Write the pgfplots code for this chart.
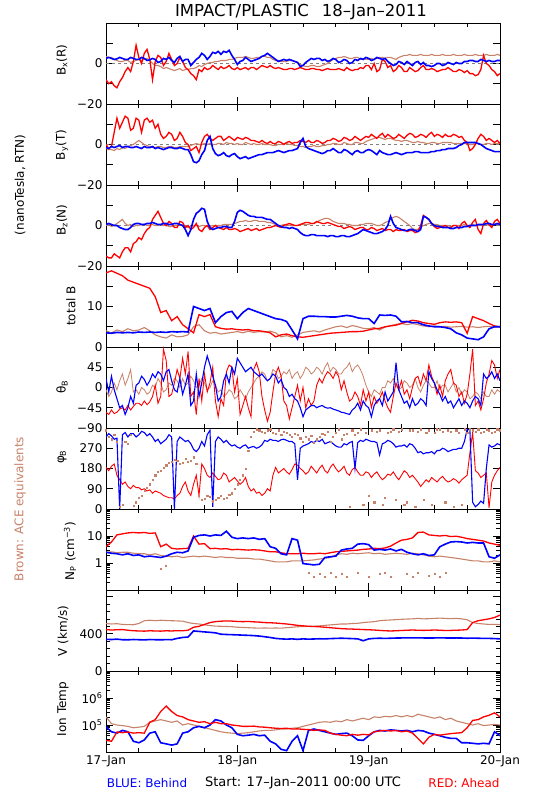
\documentclass[border=0pt]{standalone}
\usepackage{fontspec}
\setmainfont{DejaVu Sans}
\usepackage{pgfplots}
\usepackage{pgfplotstable}
\pgfplotsset{compat=1.18}
\definecolor{ace}{RGB}{200,130,105}
\definecolor{sblue}{RGB}{0,0,255}
\definecolor{sred}{RGB}{255,0,0}

\pgfplotstableread{
t b r a
0 2.5 -8 3.5
0.5 3 -10 3
1 2.5 -9 3
1.5 2 -11 2
2 2.3 -12 1.5
2.5 3 -9 1
3 2.5 -7 1
3.5 2 -4 1.5
4 2 -2 1.5
4.5 3 -4 0.5
5 2.5 1 1
5.5 2 9 1.5
6 2 3 2
6.5 3 0 1.5
7 2.5 5 2
7.5 1.5 7 2.5
8 1.8 2 1.5
8.5 2.5 -8 0
9 2 1 -1
9.5 0.5 4 -1
10 1 3 -1.5
10.5 2.5 -1 -2.5
11 2 1 -2
11.5 3 5 -2.5
12 1.5 2 -3
12.5 0.5 -1 -3.5
13 2.5 0 -3
13.5 3.5 3 -2.5
14 1 1 -3.5
14.5 2 -2 -3
15 2 -3 -3
15.5 -1 -5 -2.5
16 0.5 -6 -2.5
16.5 2 -8 -2
17 3 -3 -1
17.5 5 -4 -1.5
18 4 -2 -0.5
18.5 2 -3 0
19 3.5 -2.5 0.5
19.5 5.5 -1 0.5
20 5 -2 1
20.5 6 -3 1
21 4.5 -1.5 1.5
21.5 6 -2.5 1.5
22 5.5 -2 1.5
22.5 6.5 -1 2
23 4 -2.5 2
23.5 2 -3 2.5
24 -0.5 -2 3
24.5 1 -3 3
25 1.5 -2.5 3
25.5 3 -2 3.5
26 2 -3 3
26.5 1 -2 2.5
27 1.5 -2 2.5
27.5 2 -3 3
28 2.5 -2 3
28.5 3.5 -1 3.5
29 4 -1.5 3.5
29.5 5 -2 3
30 4 -1 3
30.5 3 -2 2
31 2 -2.5 1.5
31.5 1 -2 1.5
32 1.5 -2.5 1
32.5 2 -3 1
33 1.5 -3 1
33.5 2 -2.5 1.5
34 1.5 -2.5 1.5
34.5 1 -3 1
35 0.5 -2.5 0.5
35.5 -1.5 -2 -0.5
36 -1 -2.5 -1
36.5 0.5 -3 -1.5
37 1.5 -3 -1.5
37.5 2.5 -2.5 -1
38 2 -2.5 -1
38.5 2.5 -3 -1.5
39 2.5 -3 -1.5
39.5 1.5 -3.5 -1
40 2 -3 -0.5
40.5 1 -2.5 0
41 1.5 -3 1
41.5 2.5 -3 2
42 2 -3 2.5
42.5 0.5 -2.5 3
43 1 -3 3
43.5 2 -3.5 3.5
44 1.5 -2 3
44.5 0 -3 2.5
45 0.5 -3.5 2.5
45.5 2 -3 3
46 1.5 -3 3
46.5 2.5 -2 2
47 2 -2.5 2.5
47.5 3 -1 2
48 2.5 -1 2
48.5 1.5 -3 2.5
49 2 0 2
49.5 3 -4 2.5
50 2.5 -3 3
50.5 2 2 3
51 2.5 1 2.5
51.5 1 -2 3
52 0 -1 3
52.5 -1 -4 2.5
53 -0.5 -3 2
53.5 1 -1 3
54 0.5 -2 3.5
54.5 -0.5 -4 4
55 1 -4 4
55.5 0 -2 4.5
56 -1 -3 4
56.5 0.5 -4 4
57 1 -3.5 4
57.5 -0.5 -2 4.5
58 0.5 -1 4
58.5 -1 -3 4
59 -1 -3 4
59.5 -1.5 -2.5 4.5
60 -1 -3 4
60.5 0 -4 4
61 0 -3.5 4
61.5 -1 -3 4.5
62 -0.5 -3 4
62.5 0.5 -2 4
63 0 -3 4
63.5 -0.5 -4 4.5
64 0.5 -4 4
64.5 0 -3 4
65 0 -3.5 4
65.5 1 -4.5 4.5
66 1 -3.5 4
66.5 1.5 -5 4
67 1.5 -5 4
67.5 1 -6 4.5
68 1 -5.5 4
68.5 2 -3 4
69 1.5 4 4
69.5 1 0 4.5
70 1.5 -1 4
70.5 1 -3 4
71 1 -4 4
71.5 1.5 -6 4.5
72 1.5 -5 4
}\tBx

\pgfplotstableread{
t b r a
0 -1.5 0 -2
0.5 -2 -2 -2.5
1 -1 -1 -2.5
1.5 -1.5 6 -3
2 -1 13 -2
2.5 -0.5 8 -2.5
3 -1.5 11 -1.5
3.5 -1 14 -2
4 -1 13 -1
4.5 -1.5 7 -0.5
5 -1.5 8 0
5.5 -1 13 1
6 -1.5 12 2
6.5 -2 6 1
7 -1 12 0
7.5 -1.5 13 -0.5
8 -1.5 11 -1
8.5 -1 12 -1.5
9 -2 8 -1.5
9.5 -1.5 10 -1
10 -2 5 -1
10.5 -2.5 3 -1.5
11 -2 4 -1.5
11.5 -1.5 6 -1
12 -1.5 5 -1
12.5 -2 2 -1.5
13 -2 3 -1.5
13.5 -1.5 6 -1
14 -2 4 -1
14.5 -2.5 1 -1
15 -2.5 0 -1
15.5 -5 -3 -0.5
16 -8.5 -2 0
16.5 -9 -1 0.5
17 -8 -4 0
17.5 -5 1 0
18 -3 4 0.5
18.5 2 5 0
19 4 3 0.5
19.5 -2 2 0
20 -4.5 3 0
20.5 -5.5 4 0.5
21 -5 4 0.5
21.5 -4 2 0
22 -5.5 3 1
22.5 -6 4 0.5
23 -5 3 0.5
23.5 -4.5 2 0
24 -6 3.5 0.5
24.5 -7 3 0
25 -6.5 2.5 0
25.5 -6 3.5 1
26 -7 3 0.5
26.5 -6.5 2 0
27 -6 2 0.5
27.5 -5.5 1.5 0
28 -5 1 0
28.5 -5 2 0.5
29 -4.5 1 0
29.5 -4 0.5 0
30 -4 1.5 0
30.5 -4 0.5 -0.5
31 -3.5 0.5 -0.5
31.5 -3 1.5 0
32 -3.5 1 0
32.5 -4 0 0.5
33 -3.5 1 0.5
33.5 -3 1.5 0
34 -3 0.5 0
34.5 -2.5 1 -0.5
35 -2 1 -0.5
35.5 1 2 -1
36 3 1.5 -1
36.5 -1 1 -1.5
37 -2 2 -1
37.5 -2.5 1 -1
38 -3 1 -0.5
38.5 -3.5 2 -1
39 -4 1.5 -1
39.5 -4.5 0.5 -0.5
40 -4 1 -0.5
40.5 -3 2 0
41 -3 2 0
41.5 -2 3 0.5
42 -3 2.5 0.5
42.5 -4 1.5 0
43 -4 2 0
43.5 -2.5 3.5 1
44 -3 3 0.5
44.5 -4 2 0
45 -5 2.5 0
45.5 -3.5 4 1
46 -3 3 1
46.5 -4 2 0.5
47 -4 3 0.5
47.5 -3 4 1.5
48 -2.5 3.5 2
48.5 -3 5 2.5
49 -4 4 3
49.5 -5 3 3.5
50 -3 4.5 3.5
50.5 -4 5.5 3
51 -4.5 3.5 2.5
51.5 -5 5 3
52 -5 4 3
52.5 -4.5 3 2.5
53 -4 3.5 2
53.5 -4.5 5 2
54 -5 4 1.5
54.5 -4.5 3 2
55 -4 4.5 2
55.5 -4 5.5 1.5
56 -4 5 1
56.5 -3.5 3.5 1
57 -3.5 4 1.5
57.5 -4 5 1
58 -4 4.5 1
58.5 -4 3.5 0.5
59 -4 5 0.5
59.5 -3.5 6 1
60 -3.5 4 1
60.5 -3 5 0.5
61 -3 4.5 0.5
61.5 -2.5 3.5 1
62 -2.5 5 1
62.5 -2 4 1
63 -2 4 1
63.5 -2 5 0.5
64 -1.5 4.5 0.5
64.5 -0.5 3.5 0.5
65 0 4 0.5
65.5 1 2 0.5
66 1 1 0.5
66.5 1 -3 0
67 1 -2 0
67.5 1 0 0.5
68 0.5 3 0.5
68.5 0 5 0
69 -1 4 0
69.5 -2 2 0.5
70 -2.5 3 0.5
70.5 -3 2 0
71 -3.5 1 0.5
71.5 -3.5 2 0.5
72 -3.5 0.5 0.5
}\tBy

\pgfplotstableread{
t b r a
0 0.5 -15 0
0.5 1 -16 0.5
1 0.5 -16 -0.5
1.5 0 -14 0
2 0 -15 1
2.5 -1 -16 2
3 -1.5 -13 3
3.5 -2 -11 1
4 -2 -11 0
4.5 -1 -13 0.5
5 0.5 -9 -0.5
5.5 1 -8 0
6 1 -6 0
6.5 0.5 -7 0.5
7 0.5 -4 0.5
7.5 1 -2 0
8 1 -1 0
8.5 1.5 3 0.5
9 1 5 0
9.5 0.5 7 0
10 0.5 4 0.5
10.5 1 1 0
11 1 0 0
11.5 0.5 2 -0.5
12 0.5 1 -0.5
12.5 1 -1 0
13 1 -1 0
13.5 0.5 2 0.5
14 0 1.5 0
14.5 -2 -1 -0.5
15 -5 0 -1
15.5 -2 -2 -0.5
16 3 -1 0
16.5 6 1 0
17 7 -2 -0.5
17.5 8.5 -3 0
18 8 -1 0
18.5 2 0 -0.5
19 -1 -2 -0.5
19.5 -2 -1 0
20 -1.5 0 0
20.5 -1 -1 0
21 -1 -1.5 0
21.5 -0.5 -2 0.5
22 -0.5 -1 0.5
22.5 -1 -2 0.5
23 -1 -2 0.5
23.5 2 -1.5 1
24 6.5 -2 1.5
24.5 7.5 -3 2
25 7 -2.5 2
25.5 6 -2 2.5
26 5 -1.5 2
26.5 4.5 -2.5 2
27 4.5 -2 2.5
27.5 4 -1.5 2.5
28 4 -2.5 2
28.5 4 -2 2
29 3.5 -1.5 2
29.5 3 -1 1.5
30 3 -1 1.5
30.5 2 -0.5 1
31 1 0 0.5
31.5 0 -0.5 0
32 -0.5 -1 0
32.5 -1 0 0.5
33 -1 0.5 0.5
33.5 -1.5 1 0
34 -1 0.5 0
34.5 -1.5 0 0
35 -2 0 0
35.5 -3.5 0.5 0.5
36 -4.5 1 0.5
36.5 -5 1.5 0.5
37 -5 1.5 0.5
37.5 -4.5 1 1
38 -4.5 1 1
38.5 -5 2 1.5
39 -5 1.5 2.5
39.5 -5 1 3
40 -5 1 3.5
40.5 -5.5 1.5 3.5
41 -5 1 3
41.5 -5 0.5 2
42 -5.5 0 1.5
42.5 -5.5 -0.5 1
43 -5 -0.5 1
43.5 -5 -1.5 1
44 -5.5 -1 0.5
44.5 -5.5 -0.5 0.5
45 -5 -1 0
45.5 -4.5 -2 0
46 -4 -1.5 0
46.5 -3 -1 0.5
47 -2 -1 0.5
47.5 -2.5 -2 1
48 -3 -2 1
48.5 -3.5 -1 1
49 -4 -1.5 0.5
49.5 -4 -2.5 0
50 -3.5 -2 0
50.5 -3 -1.5 0.5
51 -2 -2.5 1.5
51.5 0 -2 2
52 4.5 -2 3
52.5 1 -3 4
53 -1 -2 4.5
53.5 -1.5 -2.5 4
54 -2 -2.5 3
54.5 -2.5 -2 2
55 -2.5 -3 1
55.5 -2 -2.5 0
56 -2 -2.5 -1.5
56.5 -2.5 -3.5 -2
57 -3 -3 -2
57.5 -2 0 -1
58 4.5 5 0
58.5 4 4 0.5
59 3 3 1
59.5 1 1 1
60 0 -0.5 0.5
60.5 -0.5 -1.5 0.5
61 -0.5 -1 0
61.5 -1 -0.5 0
62 -1 0 0
62.5 -1 -1 0
63 -1.5 -1 -0.5
63.5 -1.5 0 0
64 -1 0 0
64.5 -1 -1.5 0
65 -1 1 0
65.5 -0.5 2 0.5
66 -0.5 0 0
66.5 0 -1 0
67 0 1.5 0.5
67.5 0 3 0
68 0.5 -2 0
68.5 0.5 -4 0
69 0.5 1 0.5
69.5 1 2.5 0.5
70 1 0.5 0
70.5 0.5 -1 0
71 0.5 2 0.5
71.5 1 3 0.5
72 0.5 1 0
}\tBz

\pgfplotstableread{
t b r a
0 3.5 18.3 4
1 3.4 18.8 3.5
2 3.6 18.2 4.2
3 3.5 17.6 3.8
4 3.6 16.5 4.5
5 3.5 16 4
6 3.7 15.5 4.2
7 3.6 15 4.8
8 3.7 14.5 4
9 3.6 12.4 3
10 3.7 8.5 2.5
11 3.6 9 2.2
12 3.8 6.5 3
13 3.7 7.5 2.5
14 3.8 5.5 2.6
15 3.7 4.5 3
16 10 3.5 5
17 9.5 8 5.5
18 9 7.5 4
19 9.5 8 3.4
20 6 5 3.6
21 7.5 4.6 3.2
22 8.5 4.4 3.4
23 8.8 4.5 3.6
24 7 4.3 3.8
25 8.5 4.2 3.5
26 9.5 4.3 3.9
27 9 4 3.6
28 8.5 4 3.8
29 8 3.8 3.7
30 7.5 3.5 3.9
31 7 2.5 3.5
32 6.8 3 2.5
33 6.3 3.2 2.8
34 4.2 2.8 2.4
35 2 2.5 3
36 7 2.4 3.6
37 7.6 2.6 3.8
38 7.6 2.8 4
39 7.5 3 3.7
40 7.5 3.2 4.2
41 7.4 3.4 4.6
42 7.4 3.5 5
43 7.6 3.6 5.2
44 7.8 3.7 4.8
45 7.6 3.8 5.3
46 7.2 3.8 5
47 7 3.9 4.6
48 7 4.2 4.5
49 5.8 4.5 4.8
50 7.9 4.6 4.2
51 7.8 5 4.9
52 7.9 5.2 5.3
53 7.6 5.4 5.6
54 6.2 5.8 5.8
55 6.3 6.2 5.5
56 6 6.6 5.8
57 6 6.4 5.5
58 5.5 6 5.2
59 5.2 5.8 5
60 5 5.6 5.2
61 5 6 5
62 4.8 6.2 5.1
63 4.5 6.1 4.9
64 3.5 6.2 5
65 3 6 5.1
66 2.2 3.4 4.9
67 2 7.5 5
68 1.8 7 4.8
69 2.5 6.5 5
70 4.5 5.8 5.1
71 5 5.2 4.9
72 5 5 5
}\tB

\pgfplotstableread{
t b r a
0 20 -55 -5
0.5 -10 -60 -20
1 25 -50 -10
1.5 -5 -58 10
2 -25 -55 -5
2.5 -45 -48 15
3 -40 -45 30
3.5 -60 -50 5
4 -45 -40 20
4.5 -20 -50 40
5 -35 -42 -10
5.5 5 -35 -5
6 10 -35 -15
6.5 25 -40 0
7 18 -30 -5
7.5 5 -38 -15
8 15 -32 -10
8.5 30 -20 5
9 22 5 0
9.5 35 -35 20
10 30 -20 10
10.5 15 85 -10
11 35 60 -5
11.5 40 -20 10
12 15 -15 5
12.5 -5 10 20
13 -10 40 15
13.5 20 20 0
14 -15 65 20
14.5 5 30 5
15 30 80 10
15.5 -40 -20 25
16 -30 -10 15
16.5 30 -60 0
17 -20 20 5
17.5 10 -30 20
18 45 30 10
18.5 70 -10 -5
19 50 10 0
19.5 25 45 15
20 5 -30 5
20.5 -30 -65 -10
21 -20 -25 -5
21.5 15 -40 -20
22 30 35 -15
22.5 10 50 -5
23 45 45 -10
23.5 30 -10 -25
24 65 20 -20
24.5 55 -60 -5
25 45 -40 -15
25.5 35 -20 -25
26 40 -45 -10
26.5 45 -65 0
27 35 40 10
27.5 30 55 20
28 25 35 25
28.5 30 -20 35
29 22 -50 30
29.5 15 -75 15
30 20 -55 20
30.5 30 -10 40
31 25 30 35
31.5 10 45 20
32 18 25 25
32.5 0 -30 35
33 -5 -40 30
33.5 -20 -70 40
34 -15 -45 20
34.5 -25 -20 30
35 -30 5 35
35.5 -45 -30 20
36 -65 0 30
36.5 -50 -45 45
37 -45 -25 40
37.5 -40 -40 30
38 -40 -30 35
38.5 -45 5 45
39 -42 20 40
39.5 -40 10 30
40 -44 25 45
40.5 -46 35 55
41 -45 30 35
41.5 -48 20 45
42 -50 35 40
42.5 -52 25 30
43 -55 -5 30
43.5 -56 15 40
44 -58 -10 45
44.5 -60 -30 55
45 -50 -25 35
45.5 -45 -10 45
46 -35 -20 50
46.5 -50 -40 40
47 -30 -5 25
47.5 -40 -30 5
48 -45 -10 -10
48.5 -65 -45 -20
49 -40 -20 -5
49.5 -30 -35 -10
50 -25 -25 -15
50.5 -40 -10 0
51 -10 -30 0
51.5 -30 -45 15
52 -20 -55 10
52.5 -10 -20 20
53 55 10 5
53.5 -5 -5 -5
54 -20 15 0
54.5 -35 -15 15
55 -30 -5 10
55.5 -45 -25 0
56 -25 0 5
56.5 -40 20 20
57 -35 25 0
57.5 -25 5 -10
58 -30 30 5
58.5 -40 15 15
59 35 50 10
59.5 20 25 0
60 10 10 0
60.5 -5 -15 15
61 -15 5 -5
61.5 -30 -20 5
62 -20 15 5
62.5 -35 30 -10
63 -30 40 0
63.5 -45 10 10
64 -35 5 -10
64.5 -25 -20 0
65 -40 -10 -15
65.5 -30 -35 -5
66 -35 -15 -10
66.5 -45 30 -25
67 -30 85 -20
67.5 -20 -40 -10
68 -25 -30 -15
68.5 -40 -50 -25
69 30 -25 -10
69.5 20 10 -20
70 25 30 -20
70.5 35 60 -5
71 20 50 -15
71.5 30 20 -5
72 15 40 -10
}\tTh

\pgfplotstableread{
t b r a
0 320 185 350
0.5 335 170 320
1 325 190 310
1.5 310 200 330
2 315 150 300
2.5 0 130 10
3 330 110 20
3.5 340 120 300
4 320 100 290
4.5 335 90 330
5 335 105 15
5.5 320 95 30
6 330 95 50
6.5 345 85 60
7 340 90 80
7.5 325 80 95
8 335 85 110
8.5 320 70 130
9 300 80 150
9.5 310 75 165
10 290 70 170
10.5 300 60 185
11 310 55 195
11.5 330 50 205
12 320 50 210
12.5 0 45 220
13 300 60 215
13.5 320 70 200
14 310 100 205
14.5 300 120 225
15 305 80 210
15.5 290 60 215
16 265 110 230
16.5 255 150 200
17 270 60 60
17.5 300 200 40
18 280 180 45
18.5 330 150 60
19 350 140 55
19.5 10 160 35
20 300 145 40
20.5 320 130 50
21 310 135 60
21.5 295 160 45
22 305 150 50
22.5 290 120 65
23 280 130 70
23.5 285 140 90
24 275 125 110
24.5 270 110 130
25 280 120 150
25.5 285 140 180
26 270 100 260
26.5 275 80 320
27 278 90 345
27.5 270 70 355
28 275 75 350
28.5 285 60 345
29 305 70 340
29.5 300 90 350
30 310 80 355
30.5 305 150 340
31 305 185 335
31.5 300 160 350
32 308 170 330
32.5 310 180 345
33 305 165 340
33.5 300 155 330
34 300 175 320
34.5 290 200 335
35 130 195 330
35.5 270 180 315
36 280 170 300
36.5 285 155 320
37 290 165 310
37.5 300 190 325
38 295 175 295
38.5 305 160 310
39 300 180 320
39.5 310 195 335
40 290 170 330
40.5 295 160 345
41 300 185 300
41.5 290 200 320
42 280 180 340
42.5 275 165 355
43 275 175 310
43.5 290 190 330
44 285 160 335
44.5 295 150 10
45 300 175 350
45.5 180 185 330
46 295 165 340
46.5 305 150 355
47 300 150 20
47.5 310 165 340
48 305 160 60
48.5 300 140 350
49 300 155 30
49.5 295 165 345
50 240 145 350
50.5 290 130 20
51 295 140 50
51.5 305 155 340
52 300 150 345
52.5 290 165 355
53 275 145 40
53.5 280 130 345
54 280 150 355
54.5 285 170 20
55 275 160 30
55.5 290 140 350
56 285 150 350
56.5 270 135 10
57 250 120 345
57.5 255 100 355
58 245 115 40
58.5 250 130 340
59 250 120 350
59.5 255 140 20
60 245 130 340
60.5 260 120 355
61 260 135 355
61.5 270 145 345
62 265 130 30
62.5 255 120 350
63 260 125 345
63.5 265 135 10
64 265 128 350
64.5 270 115 340
65 270 130 20
65.5 300 140 355
66 355 150 340
66.5 350 250 355
67 30 340 350
67.5 10 170 345
68 20 160 355
68.5 35 140 340
69 25 150 345
69.5 180 160 355
70 285 5 350
70.5 275 120 340
71 280 150 345
71.5 290 170 355
72 285 185 350
}\tPh

\pgfplotstableread{
t b r a
0 2.5 4 2.5
1 2.3 6 2.6
2 2.2 11 2.4
3 2.0 12 2.5
4 2.2 13 2.5
5 1.9 13.5 2.3
6 2.0 13 2.2
7 1.7 13.5 2.2
8 1.8 12.5 2.0
9 1.7 13 2.2
10 1.6 4 1.9
11 1.8 5 1.8
12 2.2 3.5 1.7
13 2.5 3.3 1.8
14 2.4 3.4 1.6
15 2.8 3.5 1.7
16 9 10 1.8
17 10.5 5 1.7
18 11 5.2 1.8
19 10 3.4 1.7
20 11 3.5 1.6
21 10.5 3.3 1.7
22 15 3.4 1.6
23 9 3.1 1.6
24 8 3.2 1.5
25 8.5 3.1 1.5
26 8 3 1.5
27 8.5 3.1 1.4
28 7.5 3 1.4
29 8 2.8 1.3
30 4 2.6 1.2
31 3.5 2.6 1.1
32 2.2 2.4 1.1
33 2 2.2 1.1
34 8 2.2 1.2
35 7 2.2 1.2
36 0.95 2.3 1.2
37 0.9 2.2 1.25
38 0.85 2.2 1.3
39 0.9 2.3 1.4
40 1.6 2.2 1.5
41 1.7 2.4 1.6
42 1.8 2.6 2.0
43 3 2.7 2.2
44 3.3 2.8 2.1
45 3.5 2.9 2.3
46 5 3 2.2
47 5.2 3.2 2.3
48 4.8 3.3 2.4
49 3 3.5 2.2
50 3.2 3.4 2.3
51 3 3.6 2.1
52 3.3 4.2 2.2
53 2.8 5.5 2.3
54 3.2 7 2.2
55 2.5 7.5 2.1
56 2.2 8.5 2.3
57 2.0 13.5 2.2
58 2.2 14 2.0
59 1.9 11 1.8
60 2.0 10.5 1.7
61 4 10 1.8
62 5 10.5 1.7
63 6 9.5 1.6
64 6.2 9.8 1.5
65 6 9.0 1.4
66 5.5 8 1.3
67 5.8 7.5 1.2
68 5.5 7 1.2
69 5.5 6.5 1.1
70 1.7 5.5 1.1
71 1.5 5 1.2
72 2 4.5 1.1
}\tNp

\pgfplotstableread{
t b r a
0 340 445 510
1 338 440 505
2 342 443 508
3 336 445 500
4 335 438 498
5 338 432 497
6 336 430 510
7 334 428 540
8 338 432 545
9 336 430 540
10 335 428 545
11 337 432 542
12 336 430 540
13 350 433 538
14 360 432 535
15 365 438 520
16 430 470 510
17 425 480 505
18 420 500 495
19 415 520 488
20 410 530 482
21 395 535 480
22 392 538 478
23 390 536 476
24 388 532 470
25 385 530 468
26 383 532 465
27 380 528 462
28 375 525 460
29 368 520 462
30 360 518 460
31 350 515 462
32 345 510 460
33 342 505 465
34 345 498 470
35 340 490 475
36 345 485 478
37 342 480 480
38 344 478 480
39 346 475 485
40 345 470 490
41 348 465 495
42 350 460 500
43 352 455 505
44 350 452 505
45 348 450 510
46 345 448 512
47 325 445 520
48 345 443 525
49 350 440 530
50 352 436 540
51 350 432 545
52 352 430 548
53 354 432 552
54 355 435 555
55 356 438 558
56 355 440 560
57 356 438 565
58 355 436 560
59 354 438 562
60 355 440 565
61 356 438 568
62 355 435 565
63 354 436 562
64 355 438 565
65 354 440 560
66 352 445 550
67 353 520 520
68 352 540 510
69 350 550 505
70 350 560 500
71 348 575 500
72 345 600 498
}\tV

\pgfplotstableread{
t b r a
0 85e3 27e3 200e3
1 56e3 25e3 112e3
2 50e3 55e3 100e3
3 63e3 52e3 95e3
4 56e3 55e3 89e3
5 25e3 50e3 79e3
6 22e3 52e3 83e3
7 28e3 50e3 89e3
8 50e3 126e3 126e3
9 56e3 158e3 141e3
10 22e3 316e3 158e3
11 20e3 501e3 141e3
12 18e3 316e3 126e3
13 20e3 224e3 141e3
14 50e3 200e3 100e3
15 56e3 158e3 112e3
16 79e3 141e3 100e3
17 89e3 126e3 89e3
18 79e3 132e3 79e3
19 100e3 112e3 71e3
20 158e3 126e3 63e3
21 141e3 112e3 56e3
22 100e3 112e3 52e3
23 79e3 100e3 50e3
24 45e3 95e3 48e3
25 40e3 89e3 50e3
26 42e3 89e3 52e3
27 45e3 91e3 56e3
28 40e3 85e3 60e3
29 42e3 83e3 63e3
30 25e3 79e3 63e3
31 20e3 76e3 66e3
32 12.6e3 74e3 71e3
33 11.2e3 76e3 71e3
34 25e3 71e3 76e3
35 40e3 72e3 79e3
36 11.2e3 69e3 89e3
37 63e3 68e3 100e3
38 71e3 63e3 112e3
39 63e3 66e3 126e3
40 56e3 63e3 132e3
41 50e3 50e3 126e3
42 45e3 45e3 141e3
43 48e3 42e3 132e3
44 50e3 40e3 158e3
45 40e3 45e3 141e3
46 28e3 42e3 158e3
47 27e3 45e3 178e3
48 40e3 43e3 158e3
49 56e3 56e3 200e3
50 63e3 60e3 190e3
51 60e3 63e3 209e3
52 66e3 60e3 200e3
53 63e3 63e3 224e3
54 60e3 56e3 200e3
55 63e3 60e3 224e3
56 56e3 50e3 200e3
57 63e3 32e3 251e3
58 60e3 20e3 224e3
59 50e3 35e3 200e3
60 45e3 45e3 178e3
61 40e3 42e3 200e3
62 35e3 45e3 158e3
63 32e3 48e3 178e3
64 32e3 50e3 141e3
65 22e3 52e3 126e3
66 22e3 79e3 112e3
67 21e3 148e3 100e3
68 20e3 158e3 112e3
69 21e3 200e3 95e3
70 20e3 229e3 100e3
71 56e3 282e3 105e3
72 40e3 200e3 100e3
}\tT

\pgfplotsset{
  panel/.style={
    scale only axis, width=394pt, height=81pt, anchor=south west,
    xmin=0, xmax=72, xtick={0,24,48,72},
    minor xtick={6,12,18,30,36,42,54,60,66},
    xticklabels={},
    tick align=inside,
    major tick length=7pt, minor tick length=4pt,
    axis line style={line width=0.9pt},
    every tick/.append style={line width=0.7pt, black},
    tick label style={font=\fontsize{12}{14}\selectfont},
    /pgf/number format/assume math mode=true,
  },
  bl/.style={color=sblue, line width=1.6pt},
  rd/.style={color=sred, line width=1.3pt},
  br/.style={color=ace, line width=1.1pt},
  zl/.style={color=gray, dashed, line width=0.6pt},
}

\begin{document}
\begin{tikzpicture}
\path[use as bounding box] (0pt,0pt) rectangle (550pt,800pt);

% Bx
\begin{axis}[panel, at={(106pt,696pt)}, ymin=-20, ymax=20,
  ytick={-20,-10,0,10,20}, yticklabels={−20,,0,,}]
\addplot[zl] coordinates {(0,0) (72,0)};
\addplot[br] table[x=t,y=a]{\tBx};
\addplot[rd] table[x=t,y=r]{\tBx};
\addplot[bl] table[x=t,y=b]{\tBx};
\end{axis}

% By
\begin{axis}[panel, at={(106pt,615pt)}, ymin=-20, ymax=20,
  ytick={-20,-10,0,10,20}, yticklabels={−20,,0,,}]
\addplot[zl] coordinates {(0,0) (72,0)};
\addplot[br] table[x=t,y=a]{\tBy};
\addplot[rd] table[x=t,y=r]{\tBy};
\addplot[bl] table[x=t,y=b]{\tBy};
\end{axis}

% Bz
\begin{axis}[panel, at={(106pt,534pt)}, ymin=-20, ymax=20,
  ytick={-20,-10,0,10,20}, yticklabels={−20,,0,,}]
\addplot[zl] coordinates {(0,0) (72,0)};
\addplot[br] table[x=t,y=a]{\tBz};
\addplot[rd] table[x=t,y=r]{\tBz};
\addplot[bl] table[x=t,y=b]{\tBz};
\end{axis}

% total B
\begin{axis}[panel, at={(106pt,453pt)}, ymin=0, ymax=20,
  ytick={0,5,10,15,20}, yticklabels={0,,10,,}]
\addplot[br] table[x=t,y=a]{\tB};
\addplot[rd] table[x=t,y=r]{\tB};
\addplot[bl] table[x=t,y=b]{\tB};
\end{axis}

% theta
\begin{axis}[panel, at={(106pt,372pt)}, ymin=-90, ymax=90,
  ytick={-90,-45,0,45,90}, yticklabels={−90,−45,0,45,}]
\addplot[br, line width=0.8pt] table[x=t,y=a]{\tTh};
\addplot[rd, line width=0.9pt] table[x=t,y=r]{\tTh};
\addplot[bl, line width=1.1pt] table[x=t,y=b]{\tTh};
\end{axis}

% phi
\begin{axis}[panel, at={(106pt,291pt)}, ymin=0, ymax=360,
  ytick={0,90,180,270,360}, yticklabels={0,90,180,270,}]
\addplot[only marks, mark=square*, mark size=0.6pt, color=ace] table[x=t,y=a]{\tPh};
\addplot[rd, line width=0.9pt] table[x=t,y=r]{\tPh};
\addplot[bl, line width=1.1pt] table[x=t,y=b]{\tPh};
\end{axis}

% Np
\begin{axis}[panel, at={(106pt,210pt)}, ymode=log, ymin=0.1, ymax=100,
  ytick={0.1,1,10,100}, yticklabels={,1,10,},
  minor ytick={0.2,0.3,0.4,0.5,0.6,0.7,0.8,0.9,2,3,4,5,6,7,8,9,20,30,40,50,60,70,80,90}]
\addplot[br] table[x=t,y=a]{\tNp};
\addplot[only marks, mark=square*, mark size=0.5pt, color=ace] coordinates {
(10,0.6) (11,0.8) (37,0.45) (38,0.3) (39,0.4) (40,0.3) (41,0.45) (42,0.3) (43,0.4) (44,0.3)
(46,0.45) (48,0.3) (50,0.4) (51,0.45) (52,0.3) (55,0.4) (56,0.3) (57,0.45) (59,0.35) (60,0.4) (61,0.3) (62,0.45)};
\addplot[rd] table[x=t,y=r]{\tNp};
\addplot[bl] table[x=t,y=b]{\tNp};
\end{axis}

% V
\begin{axis}[panel, at={(106pt,129pt)}, ymin=0, ymax=870,
  ytick={0,400,800}, yticklabels={0,400,},
  minor ytick={80,160,240,320,480,560,640,720,880}]
\addplot[br] table[x=t,y=a]{\tV};
\addplot[rd] table[x=t,y=r]{\tV};
\addplot[bl] table[x=t,y=b]{\tV};
\end{axis}

% Ion Temp
\begin{axis}[panel, at={(106pt,48pt)}, ymode=log, ymin=1e4, ymax=1e7,
  ytick={1e4,1e5,1e6,1e7}, yticklabels={,10\textsuperscript{5},10\textsuperscript{6},},
  minor ytick={},
  xticklabels={17–Jan,18–Jan,19–Jan,20–Jan}]
\addplot[br] table[x=t,y=a]{\tT};
\addplot[bl] table[x=t,y=b]{\tT};
\addplot[rd] table[x=t,y=r]{\tT};
\end{axis}

% labels
\begin{scope}[every node/.style={font=\fontsize{12}{14}\selectfont}]
\node[rotate=90] at (62pt,740pt) {B\textsubscript{x}(R)};
\node[rotate=90] at (62pt,655pt) {B\textsubscript{y}(T)};
\node[rotate=90] at (62pt,580pt) {B\textsubscript{z}(N)};
\node[rotate=90] at (71pt,494pt) {total B};
\node[rotate=90] at (62pt,413pt) {θ\textsubscript{B}};
\node[rotate=90] at (62pt,343pt) {φ\textsubscript{B}};
\node[rotate=90] at (70pt,249pt) {N\textsubscript{P} (cm\textsuperscript{−3})};
\node[rotate=90] at (63pt,169pt) {V (km/s)};
\node[rotate=90] at (63pt,91pt) {Ion Temp};
\node[rotate=90] at (20pt,615pt) {(nanoTesla, RTN)};
\node[rotate=90, text=ace] at (20pt,291pt) {Brown: ACE equivalents};
\node[text=sblue] at (147pt,17pt) {BLUE: Behind};
\node[font=\fontsize{13}{15}\selectfont] at (303pt,17pt) {Start: 17–Jan–2011 00:00 UTC};
\node[text=sred] at (464pt,17pt) {RED: Ahead};
\end{scope}
\node[font=\fontsize{16.5}{19}\selectfont] at (301pt,788pt) {IMPACT/PLASTIC\hspace{13pt}18–Jan–2011};
\end{tikzpicture}
\end{document}
